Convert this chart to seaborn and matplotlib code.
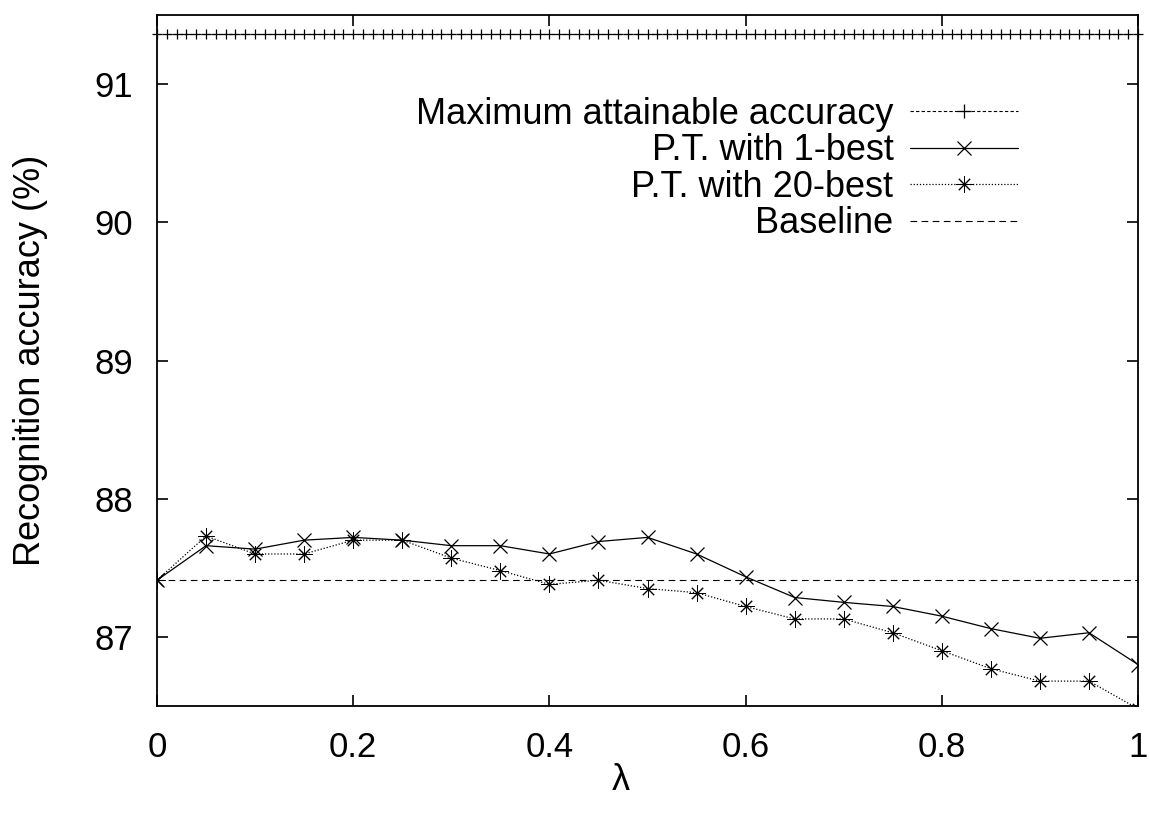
import numpy as np
import pandas as pd
import matplotlib
matplotlib.use("Agg")
import matplotlib.pyplot as plt
from matplotlib.lines import Line2D
import seaborn as sns

# Interpolation weight and recognition accuracy (%) for each system
lam = [0.0, 0.05, 0.1, 0.15, 0.2, 0.25, 0.3, 0.35, 0.4, 0.45, 0.5,
       0.55, 0.6, 0.65, 0.7, 0.75, 0.8, 0.85, 0.9, 0.95, 1.0]
pt_1best = [87.41, 87.66, 87.635, 87.70, 87.72, 87.70, 87.66, 87.66, 87.60, 87.69, 87.72,
            87.60, 87.435, 87.285, 87.25, 87.22, 87.15, 87.06, 86.99, 87.03, 86.80]
pt_20best = [87.41, 87.73, 87.60, 87.60, 87.70, 87.70, 87.57, 87.48, 87.38, 87.41, 87.35,
             87.32, 87.22, 87.13, 87.13, 87.03, 86.90, 86.77, 86.68, 86.68, 86.48]

# Constant reference levels
max_attainable = 91.36
baseline = 87.41
lam_fine = [round(i / 100, 2) for i in range(101)]

yticks = [87, 88, 89, 90, 91]
xticks = [0, 0.2, 0.4, 0.6, 0.8, 1]
xticklabels = ["0", "0.2", "0.4", "0.6", "0.8", "1"]

labels = ["Maximum attainable accuracy", "P.T. with 1-best",
          "P.T. with 20-best", "Baseline"]

sns.set_style("ticks")
plt.rcParams["font.family"] = ["Liberation Sans", "DejaVu Sans"]
for key in ["text.color", "axes.labelcolor", "xtick.color", "ytick.color", "axes.edgecolor"]:
    plt.rcParams[key] = "black"

fig = plt.figure(figsize=(11.5, 8.13), dpi=100)
ax = fig.add_axes([157 / 1150, 1 - 706 / 813, (1138 - 157) / 1150, (706 - 15) / 813])

df = pd.DataFrame({"lam": lam, "one": pt_1best, "twenty": pt_20best})
df_max = pd.DataFrame({"lam": lam_fine, "acc": [max_attainable] * len(lam_fine)})
df_base = pd.DataFrame({"lam": [lam[0], lam[-1]], "acc": [baseline, baseline]})

asterisk = (8, 2, 0)
mk = dict(markeredgecolor="black", markerfacecolor="black", markeredgewidth=0.9)
mk_ast = dict(markeredgecolor="black", markerfacecolor="black", markeredgewidth=0.7)

sns.lineplot(data=df_max, x="lam", y="acc", ax=ax, color="black", lw=0.8,
             linestyle=(0, (3, 2)), marker="+", markersize=6.5,
             clip_on=False, legend=False, **mk)
sns.lineplot(data=df, x="lam", y="one", ax=ax, color="black", lw=0.9,
             marker="x", markersize=10, legend=False, **mk)
sns.lineplot(data=df, x="lam", y="twenty", ax=ax, color="black", lw=0.9,
             linestyle=(0, (1, 1.5)), marker=asterisk, markersize=11.5,
             legend=False, **mk_ast)
sns.lineplot(data=df_base, x="lam", y="acc", ax=ax, color="black", lw=0.8,
             linestyle=(0, (6, 4)), legend=False)

ax.set_xlim(0, 1)
ax.set_ylim(86.5, 91.5)
ax.set_xticks(xticks)
ax.set_xticklabels(xticklabels)
ax.set_yticks(yticks)
ax.set_yticklabels([str(v) for v in yticks])
ax.tick_params(direction="in", length=8, width=1.2, labelsize=25, pad=17,
               top=True, right=True, colors="black")
ax.tick_params(axis="x", pad=18)

for s in ax.spines.values():
    s.set_visible(True)
    s.set_linewidth(1.3)
    s.set_color("black")

ax.set_xlabel("λ", fontsize=26)
ax.xaxis.set_label_coords((621 - 157) / 981, -0.083)
ax.set_ylabel("Recognition accuracy (%)", fontsize=26)
ax.yaxis.set_label_coords(-0.111, 0.5)

handles = [
    Line2D([], [], color="black", lw=0.8, linestyle=(0, (3, 2)), marker="+",
           markersize=10, **mk),
    Line2D([], [], color="black", lw=0.9, marker="x", markersize=10, **mk),
    Line2D([], [], color="black", lw=0.9, linestyle=(0, (1, 1.5)), marker=asterisk,
           markersize=11.5, **mk_ast),
    Line2D([], [], color="black", lw=0.8, linestyle=(0, (6, 4))),
]
leg = fig.legend(handles, labels, loc="upper right",
                 bbox_to_anchor=(1018 / 1150, 1 - 97 / 813),
                 frameon=False, markerfirst=False, fontsize=26, numpoints=1,
                 handlelength=3.0, handletextpad=0.45, labelspacing=0.04,
                 borderpad=0, borderaxespad=0)
for t in leg.get_texts():
    t.set_ha("right")

fig.savefig("out.png", dpi=100)
